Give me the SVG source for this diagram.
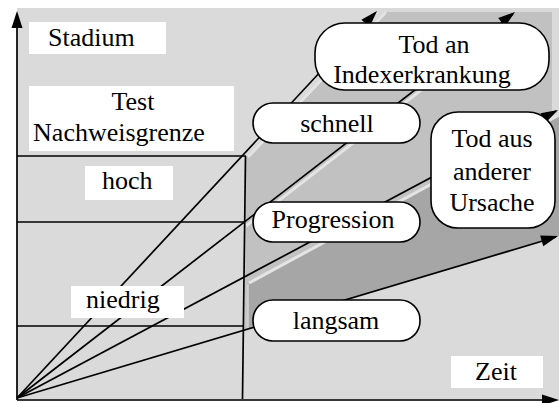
<svg xmlns="http://www.w3.org/2000/svg" width="559" height="403" viewBox="0 0 559 403">
  <defs>
    <!-- filled arrowhead, tip at the origin, pointing along +x -->
    <path id="ah" d="M-17,-5.5 L0,0 L-17,5.5 z" fill="#000"/>
  </defs>
  <style>
    .c { text-anchor: middle; }
    .box { fill: #fff; }
    .pill { fill: #fff; stroke: #000; stroke-width: 1.6; }
    .ln { stroke: #000; stroke-width: 1.7; fill: none; }
    .hl { stroke: #e4e4e4; stroke-width: 3; fill: none; }
  </style>

  <!-- canvas and plot area -->
  <rect x="0" y="0" width="559" height="403" fill="#fff"/>
  <rect x="17" y="8" width="542" height="393" fill="#dadada"/>

  <!-- shaded progression bands -->
  <g id="bands">
    <polygon points="246,157 384,12 552,12 552,125 300,300 245,330" fill="#c1c1c1"/>
    <polygon points="249,283 559,115 559,236 249,329" fill="#a6a6a6"/>
    <line class="hl" x1="248" y1="157" x2="386" y2="12"/>
    <line class="hl" x1="246" y1="226" x2="505" y2="25"/>
    <line class="hl" x1="249" y1="283" x2="559" y2="115"/>
    <line x1="247.5" y1="285" x2="247.5" y2="328" stroke="#cfcfcf" stroke-width="2"/>
  </g>

  <!-- stage grid -->
  <g id="grid" class="ln">
    <line x1="17" y1="156" x2="246" y2="156"/>
    <line x1="17" y1="222" x2="245" y2="222"/>
    <line x1="17" y1="326" x2="244" y2="326"/>
    <line x1="245.5" y1="156" x2="242.5" y2="399"/>
  </g>

  <!-- axes -->
  <g id="axes">
    <line class="ln" x1="17" y1="400" x2="17" y2="14"/>
    <line class="ln" x1="17" y1="400" x2="556" y2="400"/>
    <use href="#ah" transform="translate(17,11) rotate(-90)"/>
    <use href="#ah" transform="translate(559,400)"/>
  </g>

  <!-- course lines -->
  <g id="connectors">
    <line class="ln" x1="17" y1="398" x2="375" y2="13"/>
    <line class="ln" x1="17" y1="398" x2="513" y2="14"/>
    <line class="ln" x1="17" y1="398" x2="556" y2="111"/>
    <line class="ln" x1="17" y1="398" x2="556" y2="237"/>
    <use href="#ah" transform="translate(377,11) rotate(-47.07)"/>
    <use href="#ah" transform="translate(515,12) rotate(-37.78)"/>
    <use href="#ah" transform="translate(558,110) rotate(-28.03)"/>
    <use href="#ah" transform="translate(558,236) rotate(-16.67)"/>
  </g>

  <!-- axis and stage labels -->
  <g id="stadium">
    <rect class="box" x="29" y="22" width="137" height="32"/>
    <text x="48" y="46" font-family="Liberation Serif, serif" font-size="26">Stadium</text>
  </g>
  <g id="nachweisgrenze">
    <rect class="box" x="29" y="86" width="205" height="65"/>
    <text class="c" x="133" y="110" font-family="Liberation Serif, serif" font-size="26">Test</text>
    <text class="c" x="119" y="141" font-family="Liberation Serif, serif" font-size="26">Nachweisgrenze</text>
  </g>
  <g id="hoch">
    <rect class="box" x="85" y="166" width="88" height="34"/>
    <text x="102" y="189" font-family="Liberation Serif, serif" font-size="26">hoch</text>
  </g>
  <g id="niedrig">
    <rect class="box" x="71" y="286" width="113" height="32"/>
    <text x="86" y="308" font-family="Liberation Serif, serif" font-size="26">niedrig</text>
  </g>
  <g id="zeit">
    <rect class="box" x="451" y="356" width="92" height="32"/>
    <text x="475" y="380" font-family="Liberation Serif, serif" font-size="26">Zeit</text>
  </g>

  <!-- course and outcome nodes -->
  <g id="tod-index">
    <rect class="pill" x="315" y="23" width="234" height="67" rx="30"/>
    <text class="c" x="434" y="53" font-family="Liberation Serif, serif" font-size="26">Tod an</text>
    <text class="c" x="422" y="83" font-family="Liberation Serif, serif" font-size="26">Indexerkrankung</text>
  </g>
  <g id="schnell">
    <rect class="pill" x="253" y="103" width="167" height="40" rx="20"/>
    <text class="c" x="337" y="132" font-family="Liberation Serif, serif" font-size="26">schnell</text>
  </g>
  <g id="progression">
    <rect class="pill" x="253" y="202" width="167" height="40" rx="20"/>
    <text class="c" x="333" y="228" font-family="Liberation Serif, serif" font-size="26">Progression</text>
  </g>
  <g id="langsam">
    <rect class="pill" x="253" y="300" width="167" height="41" rx="20"/>
    <text class="c" x="336" y="329" font-family="Liberation Serif, serif" font-size="26">langsam</text>
  </g>
  <g id="tod-andere">
    <rect class="pill" x="431" y="112" width="124" height="116" rx="27"/>
    <text class="c" x="492" y="147" font-family="Liberation Serif, serif" font-size="26">Tod aus</text>
    <text class="c" x="492" y="180" font-family="Liberation Serif, serif" font-size="26">anderer</text>
    <text class="c" x="492" y="211" font-family="Liberation Serif, serif" font-size="26">Ursache</text>
  </g>
</svg>
